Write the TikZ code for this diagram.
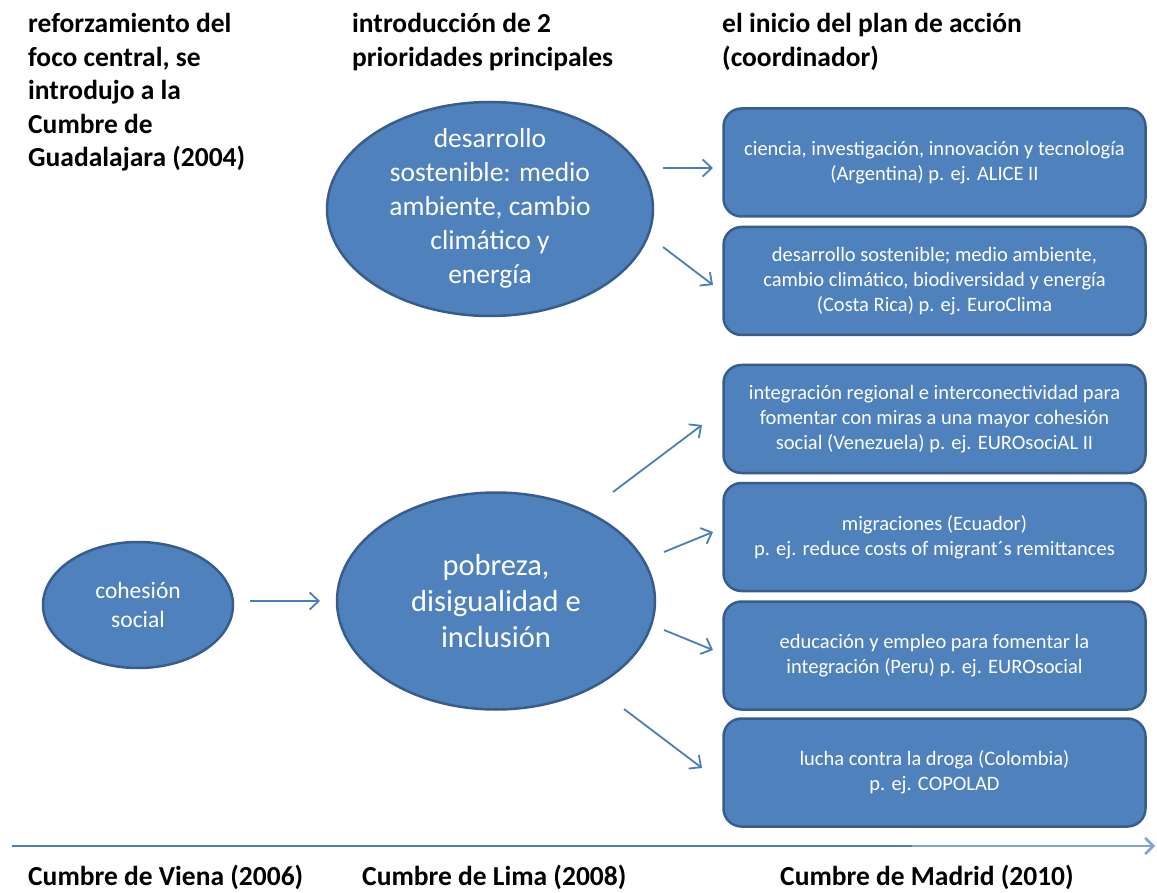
\documentclass[tikz,border=0pt]{standalone}
\usepackage{fontspec}
\setmainfont{Carlito}
\usetikzlibrary{arrows.meta,shapes.geometric}
\definecolor{boxfill}{HTML}{4F81BD}
\definecolor{boxline}{HTML}{385D8A}
\definecolor{arrowc}{HTML}{4A7EBB}
\definecolor{lightline}{HTML}{7FA4D4}
\newcommand\hdrlines[1]{\vtop{\halign{##\hfil\cr #1\crcr}}}
\begin{document}
\begin{tikzpicture}[x=1pt,y=-1pt,
  topic/.style={ellipse, fill=boxfill, draw=boxline, line width=2.5pt, inner sep=0pt},
  topictext/.style={text=white, align=center, inner sep=0pt},
  plan/.style={rectangle, rounded corners=18pt, fill=boxfill, draw=boxline, line width=2.5pt,
    text=white, align=center, minimum width=422pt, minimum height=108pt, inner sep=0pt,
    font=\fontsize{20.5}{25}\selectfont},
  hdr/.style={font=\bfseries\fontsize{27.5}{33.5}\selectfont, anchor=base west, inner sep=0pt},
  conn/.style={draw=arrowc, line width=1.8pt, -{Straight Barb[length=9pt,width=17pt]}}
]
\useasboundingbox (0,0) rectangle (1157,893);
\fill[white] (0,0) rectangle (1157,893);

% headers
\node[hdr] (h1) at (28,33) {\hdrlines{reforzamiento del\cr foco central, se\cr introdujo a la\cr Cumbre de\cr Guadalajara (2004)}};
\node[hdr] (h2) at (352,33) {\hdrlines{introducción de 2\cr prioridades principales}};
\node[hdr] (h3) at (722,33) {\hdrlines{el inicio del plan de acción\cr (coordinador)}};

% ellipses
\node[topic, minimum width=326pt, minimum height=214pt] (e1) at (490,209) {};
\node[topictext, font=\fontsize{27.5}{34}\selectfont] (t1) at ([yshift=1pt]e1) {desarrollo\\sostenible: medio\\ambiente, cambio\\climático y\\energía};
\node[topic, minimum width=318pt, minimum height=217pt] (e2) at (496,601) {};
\node[topictext, font=\fontsize{30.5}{36}\selectfont] (t2) at (e2) {pobreza,\\disigualidad e\\inclusión};
\node[topic, minimum width=190pt, minimum height=126pt] (e0) at (138,605) {};
\node[topictext, font=\fontsize{23.5}{29}\selectfont] (t0) at (e0) {cohesión\\social};

% boxes
\node[plan] (b1) at (934.5,162.5) {ciencia, investigación, innovación y tecnología\\(Argentina) p. ej. ALICE II};
\node[plan] (b2) at (934.5,281) {desarrollo sostenible; medio ambiente,\\cambio climático, biodiversidad y energía\\(Costa Rica) p. ej. EuroClima};
\node[plan] (b3) at (934.5,419) {integración regional e interconectividad para\\fomentar con miras a una mayor cohesión\\social (Venezuela) p. ej. EUROsociAL II};
\node[plan] (b4) at (934.5,537) {migraciones (Ecuador)\\p. ej. reduce costs of migrant´s remittances};
\node[plan] (b5) at (934.5,655.5) {educación y empleo para fomentar la\\integración (Peru) p. ej. EUROsocial};
\node[plan] (b6) at (934.5,772.5) {lucha contra la droga (Colombia)\\p. ej. COPOLAD};

% connector end points
\coordinate (c0s) at (250,601); \coordinate (c0e) at (320,601);
\coordinate (c1s) at (663,168); \coordinate (c1e) at (713,168);
\coordinate (c2s) at (663,247); \coordinate (c2e) at (713,285);
\coordinate (c3s) at (613,492); \coordinate (c3e) at (702,425);
\coordinate (c4s) at (664,552); \coordinate (c4e) at (713,532);
\coordinate (c5s) at (664,630); \coordinate (c5e) at (713,650);
\coordinate (c6s) at (624,709); \coordinate (c6e) at (702,768);
\draw[conn] (c0s) -- (c0e);
\draw[conn] (c1s) -- (c1e);
\draw[conn] (c2s) -- (c2e);
\draw[conn] (c3s) -- (c3e);
\draw[conn] (c4s) -- (c4e);
\draw[conn] (c5s) -- (c5e);
\draw[conn] (c6s) -- (c6e);

% timeline
\coordinate (tl0) at (12,846);
\coordinate (tlm) at (912,846);
\coordinate (tl1) at (1155,846);
\draw[draw=lightline, line width=2.5pt, -{Straight Barb[length=8pt,width=16pt]}] (tlm) -- (tl1);
\draw[draw=arrowc, line width=2.5pt] (tl0) -- (tlm);

% bottom labels
\node[hdr] (s1) at (28,885) {Cumbre de Viena (2006)};
\node[hdr] (s2) at (362,885) {Cumbre de Lima (2008)};
\node[hdr] (s3) at (780,885) {Cumbre de Madrid (2010)};
\end{tikzpicture}
\end{document}
